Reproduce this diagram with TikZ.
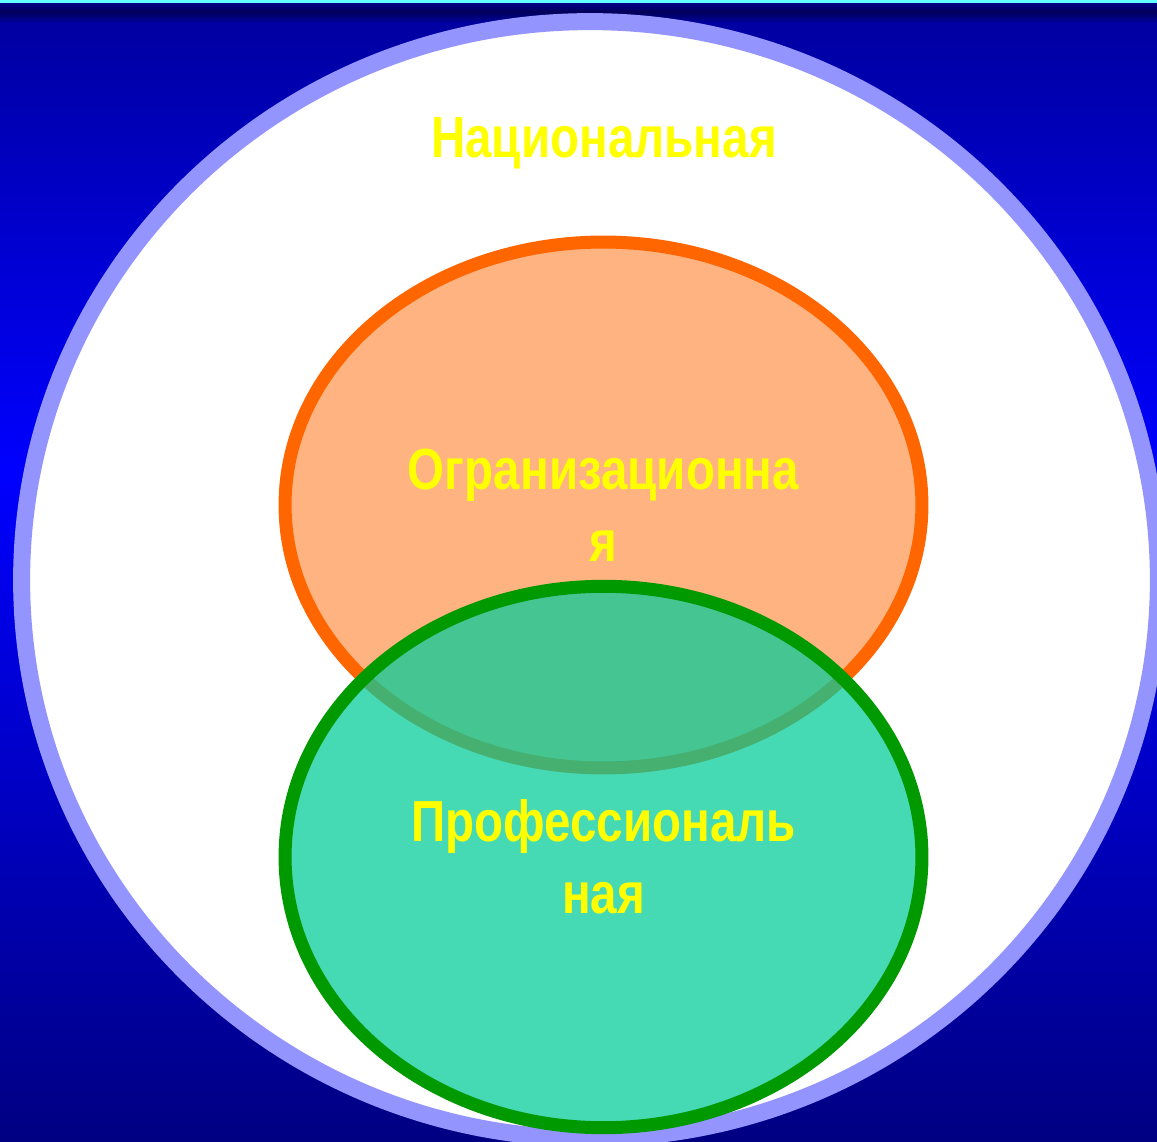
\documentclass[tikz,border=0pt]{standalone}
\usepackage{fontspec}
\newfontfamily\narrowsans{Liberation Sans}[FakeStretch=0.82]
\usetikzlibrary{shapes.geometric}

\definecolor{bgtop}{HTML}{0000A2}
\definecolor{bgmid}{HTML}{0000FF}
\definecolor{bgbottom}{HTML}{000082}
\definecolor{bgshadow}{HTML}{00005C}
\definecolor{topline}{HTML}{66FFFF}
\definecolor{ringline}{HTML}{9494FF}
\definecolor{orgfill}{HTML}{FFB380}
\definecolor{orgline}{HTML}{FF6600}
\definecolor{proffill}{HTML}{00CC99}
\definecolor{profline}{HTML}{009900}
\definecolor{labelyellow}{HTML}{FFFF00}

\begin{document}
\begin{tikzpicture}[x=0.02cm, y=-0.02cm,
  setlabel/.style={text=labelyellow, align=center,
    font=\narrowsans\bfseries\fontsize{33}{41}\selectfont},
  setshape/.style={ellipse, inner sep=0pt, minimum width=12.74cm,
    line width=0.26cm, setlabel}]

% Background
\useasboundingbox (0,0) rectangle (1157,1142);
\shade[top color=bgtop, bottom color=bgmid] (0,22) rectangle (1157,470);
\shade[top color=bgmid, bottom color=bgbottom] (0,470) rectangle (1157,1142);
\shade[top color=bgtop!60!bgshadow, bottom color=bgshadow] (0,3) rectangle (1157,12);
\shade[top color=bgshadow, bottom color=bgtop] (0,12) rectangle (1157,23);
\fill[topline] (0,0) rectangle (1157,3);

% Sets
\node[ellipse, inner sep=0pt, minimum width=22.74cm, minimum height=22.34cm,
  fill=white, draw=ringline, line width=0.34cm] (nat) at (590,580) {};
\node[setlabel] (natlabel) at (604,143) {Национальная};

\node[setshape, minimum height=10.52cm, fill=orgfill, draw=orgline]
  (org) at (603.5,505) {Огранизационна\\я};
\node[setshape, minimum height=10.83cm, fill=proffill, fill opacity=0.73,
  text opacity=1, draw=profline] (prof) at (603.5,857) {Профессиональ\\ная};

\end{tikzpicture}
\end{document}
